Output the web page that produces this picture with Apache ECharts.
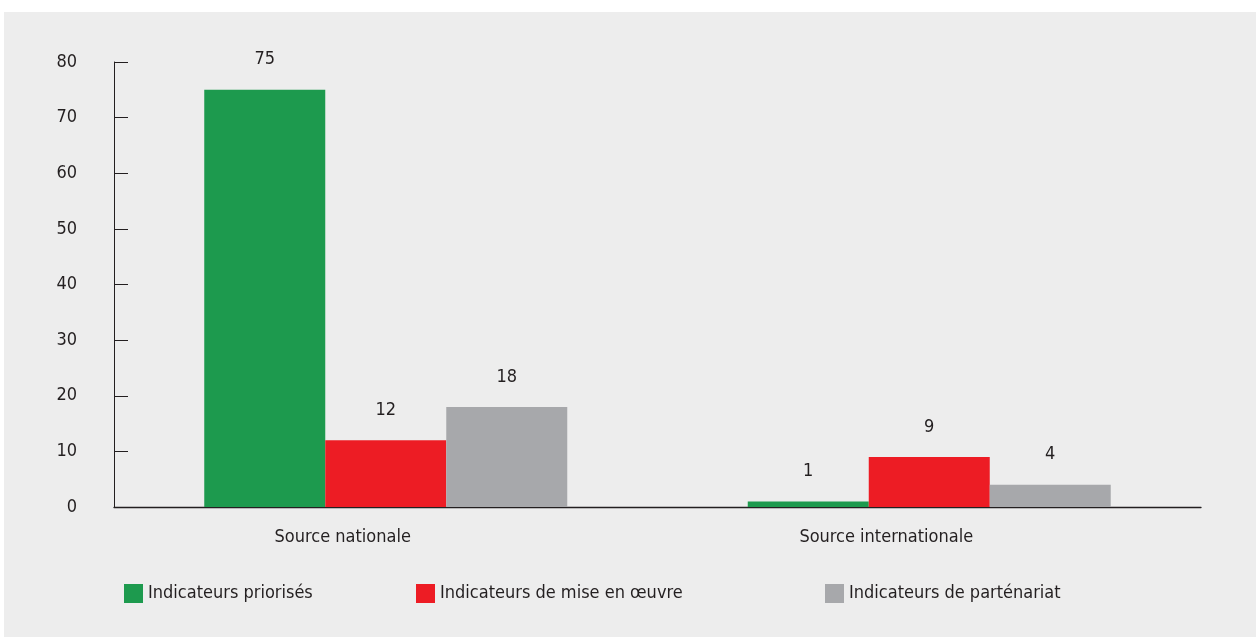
<!DOCTYPE html>
<html>
<head>
<meta charset="utf-8">
<script src="https://cdn.jsdelivr.net/npm/echarts@6/dist/echarts.min.js"></script>
<style>
html,body{margin:0;padding:0;background:#fff;width:1256px;height:637px;overflow:hidden;}
#panel{position:absolute;left:4px;top:12px;width:1252px;height:625px;background:#ededed;}
#chart{position:absolute;left:0;top:0;width:1256px;height:637px;}
</style>
</head>
<body>
<div id="panel"></div>
<div id="chart"></div>
<script>
const categories = ['Source nationale', 'Source internationale'];
const seriesNames = ['Indicateurs priorisés', 'Indicateurs de mise en œuvre', 'Indicateurs de parténariat'];
const priorises = [75, 1];
const miseEnOeuvre = [12, 9];
const partenariat = [18, 4];
const yTicks = [0, 10, 20, 30, 40, 50, 60, 70, 80];

const FONT = '"DejaVu Sans Condensed", "Liberation Sans Narrow", sans-serif';
const TXT = '#231f20';
const colors = ['#1d9a4e', '#ed1c24', '#a7a8ab'];
const values = [priorises, miseEnOeuvre, partenariat];
const FS = 18;

const chart = echarts.init(document.getElementById('chart'), null, {renderer: 'canvas'});
const legendLefts = [124, 416, 825];
chart.setOption({
  backgroundColor: 'transparent',
  animation: false,
  textStyle: {fontFamily: FONT, color: TXT},
  grid: {left: 114, right: 55, top: 62, bottom: 130},
  legend: seriesNames.map((n, i) => ({
    data: [n],
    left: legendLefts[i],
    top: 584,
    padding: 0,
    itemWidth: 19,
    itemHeight: 19,
    itemGap: 0,
    icon: 'rect',
    textStyle: {fontFamily: FONT, fontSize: FS, color: TXT},
    selectedMode: false
  })),
  xAxis: {
    type: 'category',
    data: categories,
    axisLine: {lineStyle: {color: TXT, width: 1.3}},
    axisTick: {show: false},
    axisLabel: {fontFamily: FONT, fontSize: FS, color: TXT, margin: 21, padding: [0, 86, 0, 0]}
  },
  yAxis: {
    type: 'value',
    min: yTicks[0],
    max: yTicks[yTicks.length - 1],
    interval: 10,
    splitLine: {show: false},
    axisLine: {show: true, lineStyle: {color: TXT, width: 1}},
    axisTick: {show: true, inside: true, length: 14, lineStyle: {color: TXT, width: 1}},
    axisLabel: {fontFamily: FONT, fontSize: FS, color: TXT, margin: 37}
  },
  series: seriesNames.map((n, i) => ({
    name: n,
    type: 'bar',
    data: values[i],
    barWidth: 121,
    barGap: '0%',
    itemStyle: {color: colors[i]},
    label: {show: true, position: 'top', distance: 21, fontFamily: FONT, fontSize: FS, color: TXT}
  }))
});
</script>
</body>
</html>
